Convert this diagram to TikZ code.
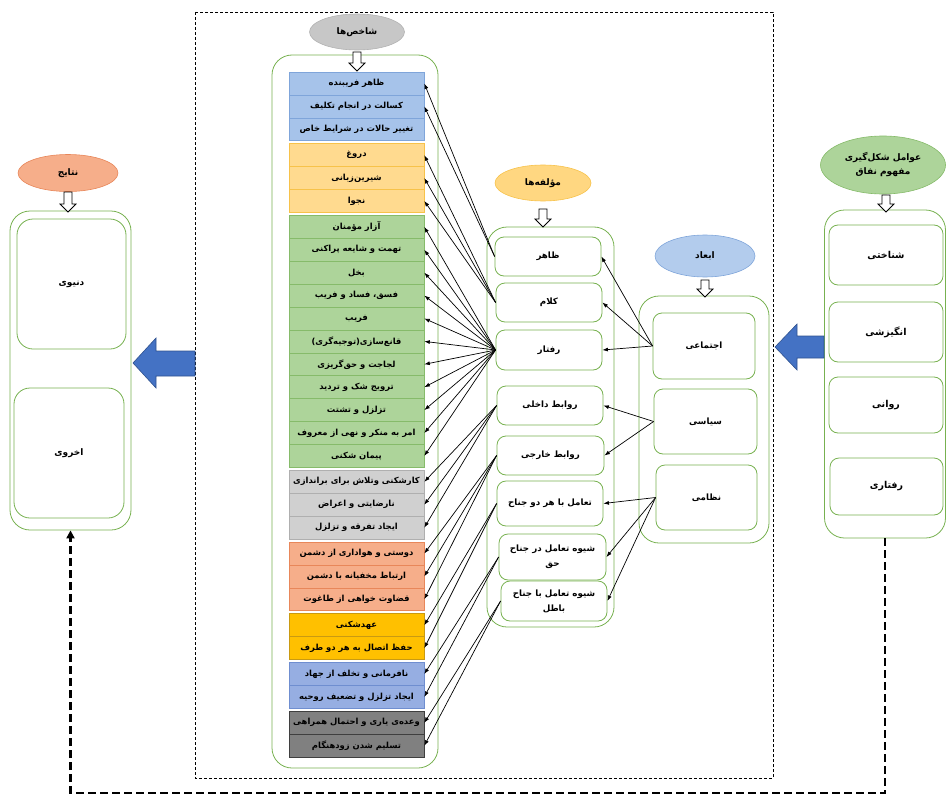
\documentclass[tikz,border=0pt]{standalone}
\usepackage{fontspec}
\usepackage{xcolor}
\usetikzlibrary{arrows.meta,shapes.geometric}
\newfontfamily\farsi[Script=Arabic]{DejaVu Sans}
\TeXXeTstate=1
\newcommand{\fa}[1]{\beginR#1\endR}

\definecolor{panelgreen}{HTML}{77B150}
\definecolor{blueA}{HTML}{A6C3EA}
\definecolor{blueAline}{HTML}{7FA5DA}
\definecolor{orangeA}{HTML}{FFDA8F}
\definecolor{orangeAline}{HTML}{F7C24A}
\definecolor{greenA}{HTML}{ADD49A}
\definecolor{greenAline}{HTML}{86BB6A}
\definecolor{grayA}{HTML}{D0D0D0}
\definecolor{grayAline}{HTML}{AFAFAF}
\definecolor{salmonA}{HTML}{F6AE8A}
\definecolor{salmonAline}{HTML}{E8875A}
\definecolor{goldA}{HTML}{FFC000}
\definecolor{goldAline}{HTML}{C99A12}
\definecolor{blueB}{HTML}{96AEE2}
\definecolor{blueBline}{HTML}{6F8ED0}
\definecolor{grayB}{HTML}{808080}
\definecolor{grayBline}{HTML}{3F3F3F}
\definecolor{bigblue}{HTML}{4472C4}
\definecolor{bigblueline}{HTML}{2F528F}

% hollow arrow under a title: x, top y, tip y
\newcommand{\hollowdown}[3]{%
  \draw[fill=white, line width=0.8pt] (#1-4,#2) -- (#1+4,#2) -- (#1+4,#3-8)
    -- (#1+8,#3-8) -- (#1,#3) -- (#1-8,#3-8) -- (#1-4,#3-8) -- cycle;}

\begin{document}
\begin{tikzpicture}[x=1pt, y=-1pt,
    cell/.style={draw, line width=0.6pt, minimum width=135pt, minimum height=22.9pt, inner sep=0pt,
      font=\farsi\bfseries\fontsize{8.4}{10}\selectfont},
    cellblueA/.style={cell, fill=blueA, draw=blueAline},
    cellorange/.style={cell, fill=orangeA, draw=orangeAline},
    cellgreen/.style={cell, fill=greenA, draw=greenAline},
    cellgrayA/.style={cell, fill=grayA, draw=grayAline},
    cellsalmon/.style={cell, fill=salmonA, draw=salmonAline},
    cellgold/.style={cell, fill=goldA, draw=goldAline},
    cellblueB/.style={cell, fill=blueB, draw=blueBline},
    cellgrayB/.style={cell, fill=grayB, draw=grayBline},
    panel/.style={draw=panelgreen, line width=0.8pt, rounded corners=20pt, inner sep=0pt},
    card/.style={draw=panelgreen, line width=0.8pt, rounded corners=9pt, inner sep=0pt, align=center,
      font=\farsi\bfseries\fontsize{8.7}{15}\selectfont},
    bubble/.style={ellipse, draw, line width=0.6pt, inner sep=0pt, align=center,
      font=\farsi\bfseries\fontsize{9}{14}\selectfont},
    link/.style={line width=0.7pt, -{Latex[length=5.5pt,width=4pt]}},
    bigarrow/.style={fill=bigblue, draw=bigblueline, line width=0.6pt}]

    \useasboundingbox (0,0) rectangle (947,797);

    \draw[line width=0.6pt, dash pattern=on 3pt off 2pt] (195,12) rectangle (773,778);

    % shakhes-ha
    \node[bubble, fill=black!22, draw=black!30, minimum width=95pt, minimum height=36pt] (shakhes) at (357,32) {\fa{شاخص‌ها}};
    \node[panel, minimum width=166pt, minimum height=713pt] (listbox) at (355,411.5) {};
    \hollowdown{357}{52}{71}

    \node[cellblueA] (s1) at (356.5,83.5) {\fa{ظاهر فریبنده}};
    \node[cellblueA] (s2) at (356.5,106.4) {\fa{کسالت در انجام تکلیف}};
    \node[cellblueA] (s3) at (356.5,129.3) {\fa{تغییر حالات در شرایط خاص}};
    \node[cellorange] (s4) at (356.5,155.2) {\fa{دروغ}};
    \node[cellorange] (s5) at (356.5,178.1) {\fa{شیرین‌زبانی}};
    \node[cellorange] (s6) at (356.5,201.0) {\fa{نجوا}};
    \node[cellgreen] (s7) at (356.5,226.9) {\fa{آزار مؤمنان}};
    \node[cellgreen] (s8) at (356.5,249.8) {\fa{تهمت و شایعه پراکنی}};
    \node[cellgreen] (s9) at (356.5,272.7) {\fa{بخل}};
    \node[cellgreen] (s10) at (356.5,295.6) {\fa{فسق، فساد و فریب}};
    \node[cellgreen] (s11) at (356.5,318.5) {\fa{فریب}};
    \node[cellgreen] (s12) at (356.5,341.4) {\fa{قانع‌سازی(توجیه‌گری)}};
    \node[cellgreen] (s13) at (356.5,364.3) {\fa{لجاجت و حق‌گریزی}};
    \node[cellgreen] (s14) at (356.5,387.2) {\fa{ترویج شک و تردید}};
    \node[cellgreen] (s15) at (356.5,410.1) {\fa{تزلزل و تشتت}};
    \node[cellgreen] (s16) at (356.5,433.0) {\fa{امر به منکر و نهی از معروف}};
    \node[cellgreen] (s17) at (356.5,455.9) {\fa{پیمان شکنی}};
    \node[cellgrayA] (s18) at (356.5,481.8) {\fa{کارشکنی وتلاش برای براندازی}};
    \node[cellgrayA] (s19) at (356.5,504.7) {\fa{نارضایتی و اعراض}};
    \node[cellgrayA] (s20) at (356.5,527.6) {\fa{ایجاد تفرقه و تزلزل}};
    \node[cellsalmon] (s21) at (356.5,553.5) {\fa{دوستی و هواداری از دشمن}};
    \node[cellsalmon] (s22) at (356.5,576.4) {\fa{ارتباط مخفیانه با دشمن}};
    \node[cellsalmon] (s23) at (356.5,599.3) {\fa{قضاوت خواهی از طاغوت}};
    \node[cellgold] (s24) at (356.5,625.2) {\fa{عهدشکنی}};
    \node[cellgold] (s25) at (356.5,648.1) {\fa{حفظ اتصال به هر دو طرف}};
    \node[cellblueB] (s26) at (356.5,674.0) {\fa{نافرمانی و تخلف از جهاد}};
    \node[cellblueB] (s27) at (356.5,696.9) {\fa{ایجاد تزلزل و تضعیف روحیه}};
    \node[cellgrayB] (s28) at (356.5,722.8) {\fa{وعده‌ی یاری و احتمال همراهی}};
    \node[cellgrayB] (s29) at (356.5,745.7) {\fa{تسلیم شدن زودهنگام}};

    % moallefe-ha
    \node[bubble, fill=orangeA!90!goldA, draw=orangeAline, minimum width=96pt, minimum height=36pt] (moallefe) at (543,183) {\fa{مؤلفه‌ها}};
    \node[panel, minimum width=127pt, minimum height=400pt] (midbox) at (550.5,427) {};
    \hollowdown{543}{209}{227}

    \node[card, minimum width=106pt, minimum height=39pt] (m1) at (548,256.5) {\fa{ظاهر}};
    \node[card, minimum width=106pt, minimum height=39pt] (m2) at (549,302.5) {\fa{کلام}};
    \node[card, minimum width=106pt, minimum height=40pt] (m3) at (549,350) {\fa{رفتار}};
    \node[card, minimum width=106pt, minimum height=39pt] (m4) at (550,405.5) {\fa{روابط داخلی}};
    \node[card, minimum width=107pt, minimum height=39pt] (m5) at (550.5,455.5) {\fa{روابط خارجی}};
    \node[card, minimum width=106pt, minimum height=45pt] (m6) at (550,503.5) {\fa{تعامل با هر دو جناح}};
    \node[card, minimum width=107pt, minimum height=46pt] (m7) at (552.5,557) {\fa{شیوه تعامل در جناح}\\\fa{حق}};
    \node[card, minimum width=106pt, minimum height=40pt] (m8) at (554,601) {\fa{شیوه تعامل با جناح}\\\fa{باطل}};

    % abaad
    \node[bubble, fill=blueA!85!white, draw=blueAline, minimum width=100pt, minimum height=42pt] (abaad) at (705,256) {\fa{ابعاد}};
    \node[panel, minimum width=130pt, minimum height=247pt] (dimbox) at (704,419.5) {};
    \hollowdown{705}{280}{297}

    \node[card, minimum width=102pt, minimum height=66pt] (d1) at (704,346) {\fa{اجتماعی}};
    \node[card, minimum width=103pt, minimum height=65pt] (d2) at (705.5,421.5) {\fa{سیاسی}};
    \node[card, minimum width=101pt, minimum height=65pt] (d3) at (706.5,497.5) {\fa{نظامی}};

    % avamel
    \node[bubble, fill=greenA, draw=greenAline, minimum width=125pt, minimum height=58pt] (avamel) at (883,165) {\fa{عوامل شکل‌گیری}\\\fa{مفهوم نفاق}};
    \node[panel, minimum width=121pt, minimum height=328pt] (factbox) at (885,374) {};
    \hollowdown{886}{195}{212}

    \node[card, font=\farsi\bfseries\fontsize{9.5}{12}\selectfont, minimum width=114pt, minimum height=60pt] (f1) at (886,255) {\fa{شناختی}};
    \node[card, font=\farsi\bfseries\fontsize{9.5}{12}\selectfont, minimum width=114pt, minimum height=60pt] (f2) at (886,332) {\fa{انگیزشی}};
    \node[card, font=\farsi\bfseries\fontsize{9.5}{12}\selectfont, minimum width=114pt, minimum height=56pt] (f3) at (886,405) {\fa{روانی}};
    \node[card, font=\farsi\bfseries\fontsize{9.5}{12}\selectfont, minimum width=113pt, minimum height=57pt] (f4) at (886.5,486.5) {\fa{رفتاری}};

    % nataij
    \node[bubble, fill=salmonA, draw=salmonAline, minimum width=100pt, minimum height=37pt] (nataij) at (68,173) {\fa{نتایج}};
    \node[panel, minimum width=121pt, minimum height=319pt] (resbox) at (70.5,370.5) {};
    \hollowdown{68}{192}{212}

    \node[card, rounded corners=16pt, font=\farsi\bfseries\fontsize{9}{12}\selectfont, minimum width=109pt, minimum height=130pt] (r1) at (71.5,284) {\fa{دنیوی}};
    \node[card, rounded corners=16pt, font=\farsi\bfseries\fontsize{9}{12}\selectfont, minimum width=110pt, minimum height=130pt] (r2) at (69,453) {\fa{اخروی}};

    % big blue arrows
    \draw[bigarrow] (195,351) -- (156,351) -- (156,338) -- (133,363) -- (156,388) -- (156,376) -- (195,376) -- cycle;
    \draw[bigarrow] (824,336) -- (797,336) -- (797,324) -- (775,347) -- (797,370) -- (797,358) -- (824,358) -- cycle;

    % feedback
    \draw[line width=2.2pt, dash pattern=on 8pt off 4pt, -{Triangle[length=8pt,width=8pt]}]
        (factbox.south) -- (885,793) -| (resbox.south);

    % abaad -> moallefe-ha
    \draw[link] (d1.west) -- (m1.east);
    \draw[link] (d1.west) -- (m2.east);
    \draw[link] (d1.west) -- (m3.east);
    \draw[link] (d2.west) -- (m4.east);
    \draw[link] (d2.west) -- (m5.east);
    \draw[link] (d3.west) -- (m6.east);
    \draw[link] (d3.west) -- (m7.east);
    \draw[link] (d3.west) -- (m8.east);

    % moallefe-ha -> shakhes-ha
    \draw[link] (m1.west) -- (s1.east);
    \draw[link] (m1.west) -- (s2.east);
    \draw[link] (m2.west) -- (s4.east);
    \draw[link] (m2.west) -- (s5.east);
    \draw[link] (m2.west) -- (s6.east);
    \draw[link] (m3.west) -- (s7.east);
    \draw[link] (m3.west) -- (s8.east);
    \draw[link] (m3.west) -- (s9.east);
    \draw[link] (m3.west) -- (s10.east);
    \draw[link] (m3.west) -- (s11.east);
    \draw[link] (m3.west) -- (s12.east);
    \draw[link] (m3.west) -- (s13.east);
    \draw[link] (m3.west) -- (s14.east);
    \draw[link] (m3.west) -- (s15.east);
    \draw[link] (m3.west) -- (s16.east);
    \draw[link] (m3.west) -- (s17.east);
    \draw[link] (m4.west) -- (s18.east);
    \draw[link] (m4.west) -- (s19.east);
    \draw[link] (m4.west) -- (s20.east);
    \draw[link] (m5.west) -- (s21.east);
    \draw[link] (m5.west) -- (s22.east);
    \draw[link] (m5.west) -- (s23.east);
    \draw[link] (m6.west) -- (s24.east);
    \draw[link] (m6.west) -- (s25.east);
    \draw[link] (m7.west) -- (s26.east);
    \draw[link] (m7.west) -- (s27.east);
    \draw[link] (m8.west) -- (s28.east);
    \draw[link] (m8.west) -- (s29.east);

\end{tikzpicture}
\end{document}
